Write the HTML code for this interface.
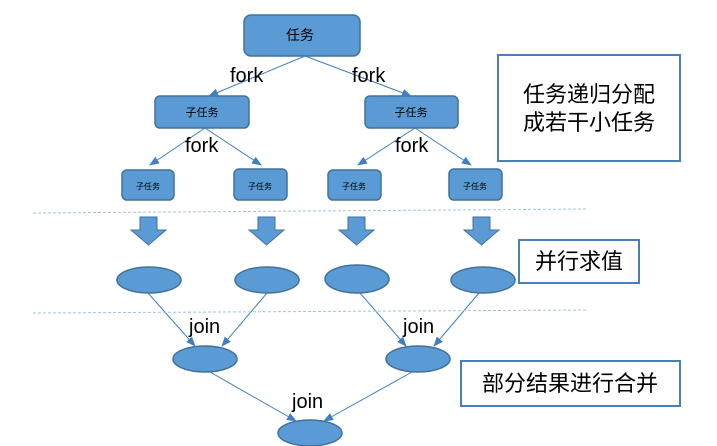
<!DOCTYPE html>
<html><head><meta charset="utf-8"><style>
html,body{margin:0;padding:0;background:#fff;}
svg{display:block;font-family:"Liberation Sans","Noto Sans CJK SC",sans-serif;}
</style></head><body>
<svg width="717" height="446" viewBox="0 0 717 446" xmlns="http://www.w3.org/2000/svg">
<defs>
<marker id="a" markerWidth="10" markerHeight="8" refX="9" refY="4" orient="auto" markerUnits="userSpaceOnUse">
<path d="M0,0 L10,4 L0,8 z" fill="#3f7fc0"/></marker>
</defs>
<g fill="#5b9bd5" stroke="#41719c" stroke-width="1.5">
<rect x="244" y="15" width="116" height="41" rx="7"/>
<rect x="155" y="96" width="94" height="32" rx="5"/>
<rect x="365" y="96" width="93" height="32" rx="5"/>
<rect x="122" y="170" width="52" height="30" rx="5"/>
<rect x="234" y="169" width="53" height="31" rx="5"/>
<rect x="328" y="170" width="53" height="30" rx="5"/>
<rect x="449" y="169" width="53" height="31" rx="5"/>
<ellipse cx="149" cy="280" rx="32" ry="13"/>
<ellipse cx="267" cy="280" rx="32" ry="13"/>
<ellipse cx="357" cy="279" rx="32" ry="14"/>
<ellipse cx="483" cy="280" rx="32" ry="13"/>
<ellipse cx="205" cy="359" rx="32" ry="13"/>
<ellipse cx="418" cy="359" rx="32" ry="13"/>
<ellipse cx="310" cy="433" rx="32" ry="13"/>
</g>
<g fill="#5b9bd5" stroke="#41719c" stroke-width="1">
<path d="M140,217 h17 v13 h9 l-17.5,15 l-17.5,-15 h9 z"/>
<path d="M258,217 h17 v13 h9 l-17.5,15 l-17.5,-15 h9 z"/>
<path d="M348,217 h17 v13 h9 l-17.5,15 l-17.5,-15 h9 z"/>
<path d="M473,217 h17 v13 h9 l-17.5,15 l-17.5,-15 h9 z"/>
</g>
<g stroke="#3f7fc0" stroke-width="1" fill="none" marker-end="url(#a)">
<line x1="305" y1="56" x2="209" y2="96"/>
<line x1="305" y1="56" x2="411" y2="96"/>
<line x1="205" y1="128" x2="150" y2="165"/>
<line x1="205" y1="128" x2="261" y2="165"/>
<line x1="415" y1="128" x2="358" y2="165"/>
<line x1="415" y1="128" x2="471" y2="165"/>
<line x1="148" y1="293" x2="195" y2="346"/>
<line x1="267" y1="293" x2="222" y2="346"/>
<line x1="360" y1="293" x2="406" y2="346"/>
<line x1="479" y1="293" x2="434" y2="346"/>
<line x1="210" y1="372" x2="296" y2="421"/>
<line x1="412" y1="372" x2="324" y2="421"/>
</g>
<g stroke="#9dc3e6" stroke-width="1" stroke-dasharray="3,2">
<line x1="33" y1="213" x2="588" y2="209"/>
<line x1="33" y1="313" x2="588" y2="310"/>
</g>
<g fill="#000">
<text x="300" y="40" font-size="14" text-anchor="middle">任务</text>
<text x="202" y="116" font-size="11" text-anchor="middle">子任务</text>
<text x="411" y="116" font-size="11" text-anchor="middle">子任务</text>
<text x="148" y="189" font-size="8" text-anchor="middle">子任务</text>
<text x="260" y="189" font-size="8" text-anchor="middle">子任务</text>
<text x="354" y="189" font-size="8" text-anchor="middle">子任务</text>
<text x="475" y="189" font-size="8" text-anchor="middle">子任务</text>
<g font-size="20">
<text x="230" y="82">fork</text>
<text x="352" y="82">fork</text>
<text x="185" y="152">fork</text>
<text x="395" y="152">fork</text>
<text x="189" y="333">join</text>
<text x="403" y="333">join</text>
<text x="292" y="408">join</text>
</g>
</g>
<g fill="#fff" stroke="#4a7ebb" stroke-width="2">
<rect x="498" y="55" width="182" height="106"/>
<rect x="519" y="240" width="120" height="43"/>
<rect x="461" y="361" width="219" height="45"/>
</g>
<g fill="#000" font-size="22" text-anchor="middle">
<text x="589" y="102">任务递归分配</text>
<text x="589" y="130">成若干小任务</text>
<text x="579" y="269">并行求值</text>
<text x="570" y="391">部分结果进行合并</text>
</g>
</svg>
</body></html>
